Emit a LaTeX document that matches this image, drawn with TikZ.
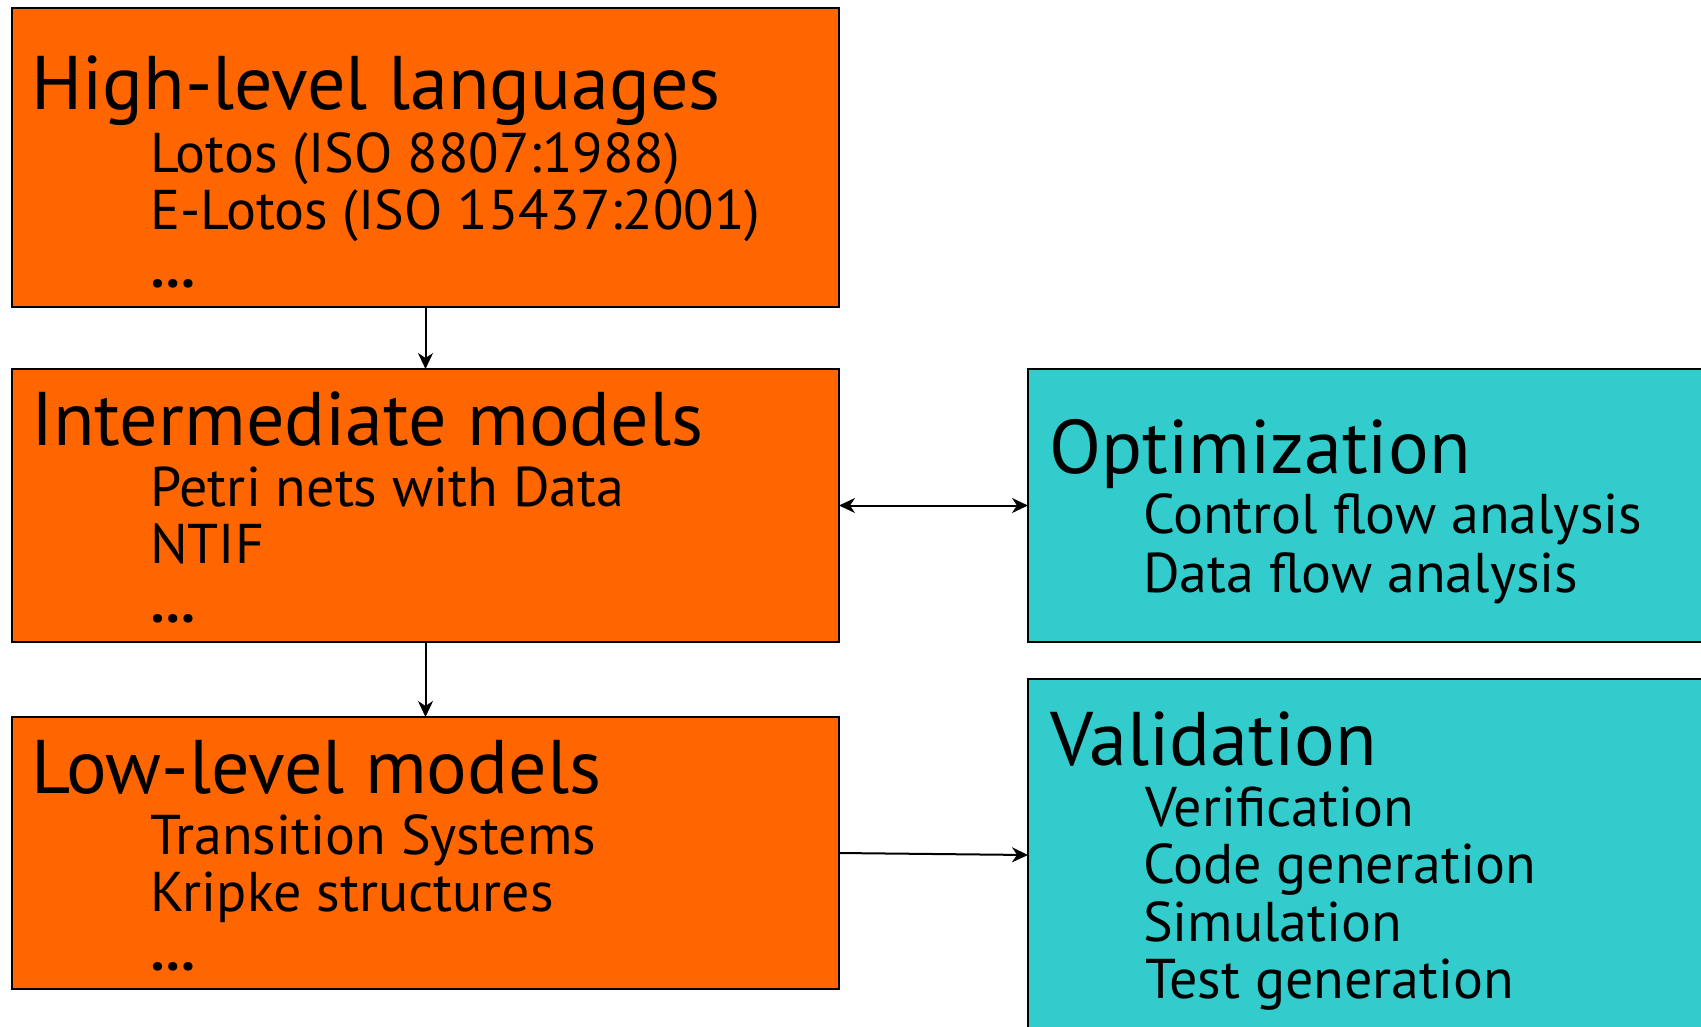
\documentclass[tikz,border=0pt]{standalone}
\usepackage{fontspec}
\setmainfont{PT Sans}
\usetikzlibrary{arrows.meta}
\definecolor{stageorange}{RGB}{255,102,0}
\definecolor{toolteal}{RGB}{51,204,204}

\begin{document}
\begin{tikzpicture}[x=1pt,y=-1pt,
  stage/.style={draw=black, line width=2.5pt, fill=stageorange, inner sep=0pt, outer sep=0pt, minimum width=827pt},
  tool/.style={draw=black, line width=2.5pt, fill=toolteal, inner sep=0pt, outer sep=0pt, minimum width=684pt},
  head/.style={anchor=base west, inner sep=0pt, font=\fontsize{76}{80}\selectfont},
  item/.style={anchor=base west, inner sep=0pt, font=\fontsize{56}{60}\selectfont},
  more/.style={anchor=base west, inner sep=0pt, font=\fontsize{56}{60}\selectfont\bfseries},
  link/.style={line width=2pt, -{Stealth[length=16pt,width=15pt,inset=5pt]}},
  duplex/.style={line width=2pt, {Stealth[length=16pt,width=15pt,inset=5pt]}-{Stealth[length=16pt,width=15pt,inset=5pt]}},
]
\useasboundingbox (0,0) rectangle (1701,1026);
\clip (0,0) rectangle (1701,1026);
\fill[white] (0,0) rectangle (1701,1026);

% language levels
\node[stage, minimum height=299pt] (high) at (425.5,157.5) {};
\node[stage, minimum height=273pt] (mid)  at (425.5,505.5) {};
\node[stage, minimum height=272pt] (low)  at (425.5,853) {};

% tool boxes (running off the right and bottom edges)
\node[tool, minimum height=273pt] (opt) at (1370,505.5) {};
\node[tool, minimum height=352pt] (val) at (1370,855) {};

% texts of the high-level box
\node[head] (highT) at (31,109) {High-level languages};
\node[item] (high1) at (150,172) {Lotos (ISO 8807:1988)};
\node[item] (high2) at (150,229) {E-Lotos (ISO 15437:2001)};
\node[more] (high3) at (150,287) {…};

% texts of the intermediate box
\node[head] (midT) at (31,445) {Intermediate models};
\node[item] (mid1) at (150,506) {Petri nets with Data};
\node[item] (mid2) at (150,563) {NTIF};
\node[more] (mid3) at (150,622) {…};

% texts of the low-level box
\node[head] (lowT) at (31,793) {Low-level models};
\node[item] (low1) at (150,854) {Transition Systems};
\node[item] (low2) at (150,911) {Kripke structures};
\node[more] (low3) at (150,970) {…};

% optimization
\node[head] (optT) at (1049,473) {Optimization};
\node[item] (opt1) at (1143,533) {Control flow analysis};
\node[item] (opt2) at (1143,592) {Data flow analysis};

% validation
\node[head] (valT) at (1050,765) {Validation};
\node[item] (val1) at (1145,826) {Verification};
\node[item] (val2) at (1143,883) {Code generation};
\node[item] (val3) at (1143,941) {Simulation};
\node[item] (val4) at (1145,998) {Test generation};

% connectors
\draw[link] (high) -- (mid);
\draw[link] (mid) -- (low);
\draw[duplex] (mid.east) -- (opt.west);
\draw[link] (low.east) -- (val.west);
\end{tikzpicture}
\end{document}
